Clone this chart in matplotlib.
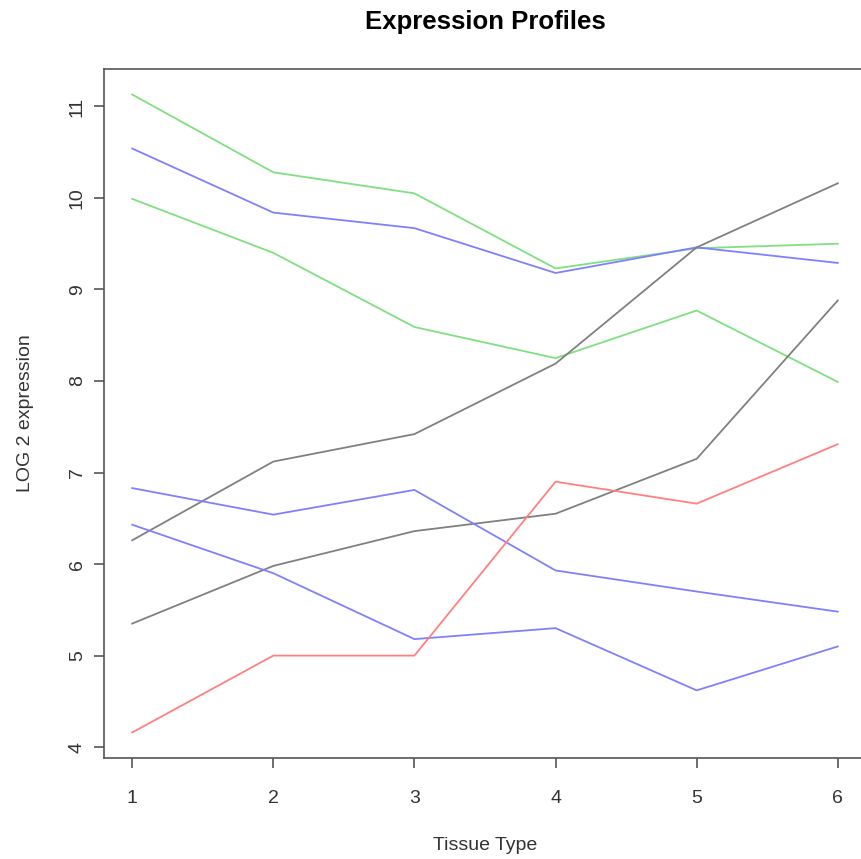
import matplotlib
matplotlib.use("Agg")
import matplotlib.pyplot as plt
import numpy as np

plt.rcParams['font.family'] = ['Liberation Sans', 'DejaVu Sans']

tissue = [1, 2, 3, 4, 5, 6]
green_a = [11.13, 10.28, 10.05, 9.23, 9.45, 9.50]
blue_a = [10.54, 9.84, 9.67, 9.18, 9.46, 9.29]
green_b = [9.99, 9.40, 8.59, 8.25, 8.77, 7.99]
gray_a = [6.26, 7.12, 7.42, 8.19, 9.46, 10.16]
gray_b = [5.35, 5.98, 6.36, 6.55, 7.15, 8.88]
blue_b = [6.83, 6.54, 6.81, 5.93, 5.70, 5.48]
blue_c = [6.43, 5.90, 5.18, 5.30, 4.62, 5.10]
red_a = [4.16, 5.00, 5.00, 6.90, 6.66, 7.31]

series = [
    (green_a, '#80E080'),
    (blue_a, '#8080FF'),
    (green_b, '#80E080'),
    (gray_a, '#808080'),
    (gray_b, '#808080'),
    (blue_b, '#8080FF'),
    (blue_c, '#8080FF'),
    (red_a, '#FF8080'),
]

W, H = 861, 859
fig = plt.figure(figsize=(W / 100, H / 100), dpi=100)
left, right, top, bottom = 104, 866, 69, 758
ax = fig.add_axes([left / W, 1 - bottom / H, (right - left) / W, (bottom - top) / H])

for vals, col in series:
    ax.plot(tissue, vals, color=col, lw=1.3)

allv = np.concatenate([np.array(v) for v, _ in series])
ymin, ymax = allv.min(), allv.max()
pad = 0.04 * (ymax - ymin)
ax.set_ylim(ymin - pad, ymax + pad)
ax.set_xlim(1 - 0.04 * 5, 6 + 0.04 * 5)

ax.set_xticks(tissue)
ax.set_yticks(range(4, 12))
for s in ax.spines.values():
    s.set_color('#555555')
    s.set_linewidth(1.2)
ax.tick_params(direction='out', length=7, width=1.2, color='#555555',
               labelsize=14, labelcolor='#333333')
ax.tick_params(axis='x', pad=16)
ax.tick_params(axis='y', pad=6)
for lab in ax.get_yticklabels():
    lab.set_rotation(90)
    lab.set_va('center')

ax.set_xlabel('Tissue Type', fontsize=14, color='#333333', va='center')
ax.xaxis.set_label_coords(485 / W, 1 - 845 / H, transform=fig.transFigure)
ax.set_ylabel('LOG 2 expression', fontsize=14, color='#333333', va='center')
ax.yaxis.set_label_coords(26 / W, 1 - 413.5 / H, transform=fig.transFigure)
fig.text(485 / W, 1 - 22 / H, 'Expression Profiles', fontsize=18.5,
         fontweight='bold', ha='center', va='center')

fig.savefig('out.png', dpi=100)
